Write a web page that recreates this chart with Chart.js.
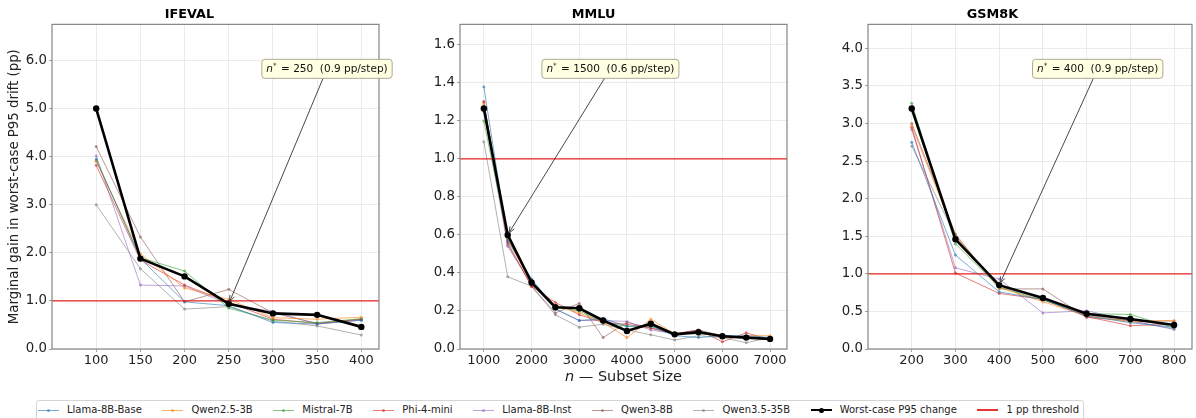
<!DOCTYPE html>
<html><head><meta charset="utf-8">
<script src="https://cdn.jsdelivr.net/npm/chart.js@4.4.1/dist/chart.umd.min.js"></script>
<style>
html,body{margin:0;padding:0;background:#fff;}
#wrap{position:relative;width:1196px;height:418px;overflow:hidden;font-family:"DejaVu Sans",sans-serif;background:#fff;}
#wrap canvas{position:absolute;top:0;}
#legend{position:absolute;left:36px;top:400px;width:1048px;height:30px;border:1px solid #d4d4d4;border-radius:3px;box-sizing:border-box;display:flex;justify-content:space-between;align-items:flex-start;padding:3px 4px 0 1px;font-size:10px;line-height:12px;color:#222;white-space:nowrap;}
.item{display:flex;align-items:center;}
.sample{position:relative;width:21px;height:12px;margin-right:8px;}
.sample .ln{position:absolute;left:0;width:21px;top:6px;}
.sample .dot{position:absolute;left:50%;top:6px;border-radius:50%;}
</style>
</head><body>
<div id="wrap">
<canvas id="c1"></canvas><canvas id="c2"></canvas><canvas id="c3"></canvas>
<div id="legend"></div>
</div>
<script>
// ---------------- DATA ----------------
const modelNames = ['Llama-8B-Base','Qwen2.5-3B','Mistral-7B','Phi-4-mini','Llama-8B-Inst','Qwen3-8B','Qwen3.5-35B'];
const worstLabel = 'Worst-case P95 change';
const thresholdLabel = '1 pp threshold';
const thresholdValue = 1;

// IFEVAL
const ifevalN         = [100,150,200,250,300,350,400];
const ifevalLlamaBase = [3.95,1.88,0.98,0.90,0.55,0.52,0.60];
const ifevalQwen25    = [3.90,1.98,1.27,1.03,0.65,0.62,0.66];
const ifevalMistral   = [3.92,1.90,1.62,0.85,0.60,0.55,0.63];
const ifevalPhi       = [3.82,1.85,1.33,0.97,0.62,0.53,0.62];
const ifevalLlamaInst = [4.02,1.33,1.31,0.93,0.78,0.52,0.60];
const ifevalQwen3     = [4.21,2.33,0.98,1.24,0.75,0.53,0.62];
const ifevalQwen35    = [3.00,1.67,0.83,0.88,0.58,0.48,0.29];
const ifevalWorst     = [5.00,1.88,1.51,0.94,0.74,0.71,0.46];
const ifevalXTicks    = [100,150,200,250,300,350,400];
const ifevalYTicks    = [0,1,2,3,4,5,6];
const ifevalStar = 250, ifevalGain = 0.9;

// MMLU
const mmluN         = [1000,1500,2000,2500,3000,3500,4000,4500,5000,5500,6000,6500,7000];
const mmluLlamaBase = [1.38,0.57,0.37,0.21,0.15,0.16,0.12,0.12,0.07,0.06,0.07,0.07,0.06];
const mmluQwen25    = [1.29,0.58,0.34,0.23,0.19,0.14,0.06,0.157,0.08,0.09,0.06,0.07,0.07];
const mmluMistral   = [1.20,0.58,0.35,0.22,0.20,0.14,0.12,0.12,0.08,0.08,0.07,0.06,0.06];
const mmluPhi       = [1.30,0.56,0.33,0.245,0.18,0.14,0.13,0.11,0.08,0.10,0.038,0.085,0.05];
const mmluLlamaInst = [1.25,0.54,0.34,0.21,0.15,0.15,0.145,0.10,0.08,0.08,0.07,0.06,0.06];
const mmluQwen3     = [1.30,0.55,0.33,0.19,0.24,0.06,0.14,0.11,0.08,0.10,0.07,0.06,0.05];
const mmluQwen35    = [1.09,0.38,0.33,0.18,0.115,0.13,0.10,0.075,0.047,0.07,0.06,0.033,0.06];
const mmluWorst     = [1.265,0.60,0.35,0.22,0.214,0.15,0.095,0.133,0.077,0.089,0.067,0.06,0.053];
const mmluXTicks    = [1000,2000,3000,4000,5000,6000,7000];
const mmluYTicks    = [0,0.2,0.4,0.6,0.8,1.0,1.2,1.4,1.6];
const mmluStar = 1500, mmluGain = 0.6;

// GSM8K
const gsmN         = [200,300,400,500,600,700,800];
const gsmLlamaBase = [2.75,1.25,0.76,0.66,0.44,0.35,0.29];
const gsmQwen25    = [2.97,1.50,0.82,0.63,0.44,0.36,0.38];
const gsmMistral   = [3.27,1.40,0.82,0.65,0.47,0.46,0.28];
const gsmPhi       = [2.95,1.01,0.74,0.66,0.43,0.31,0.33];
const gsmLlamaInst = [2.92,1.08,0.93,0.48,0.51,0.38,0.26];
const gsmQwen3     = [3.00,1.53,0.80,0.80,0.42,0.38,0.37];
const gsmQwen35    = [2.70,1.50,0.85,0.68,0.45,0.37,0.27];
const gsmWorst     = [3.20,1.46,0.85,0.68,0.47,0.40,0.32];
const gsmXTicks    = [200,300,400,500,600,700,800];
const gsmYTicks    = [0,0.5,1.0,1.5,2.0,2.5,3.0,3.5,4.0];
const gsmStar = 400, gsmGain = 0.9;

// ---------------- STYLE / LAYOUT ----------------
const FONT = '"DejaVu Sans", sans-serif';
const modelRGB = ['31,119,180','255,127,14','44,160,44','214,39,40','148,103,189','140,86,75','127,127,127'];
const modelAlpha = 0.6;
const thresholdColor = 'rgba(230,0,0,0.85)';
const thresholdLegendColor = '#e63232';

const panels = [
  {id:'c1', left:0,   width:400, title:'IFEVAL', n:ifevalN,
   series:[ifevalLlamaBase,ifevalQwen25,ifevalMistral,ifevalPhi,ifevalLlamaInst,ifevalQwen3,ifevalQwen35],
   worst:ifevalWorst, xMin:50, xMax:420, xTicks:ifevalXTicks, yTicks:ifevalYTicks,
   star:ifevalStar, gain:ifevalGain, fx:0.841, yW:52, padR:21, yTitle:true, xTitle:false},
  {id:'c2', left:400, width:400, title:'MMLU', n:mmluN,
   series:[mmluLlamaBase,mmluQwen25,mmluMistral,mmluPhi,mmluLlamaInst,mmluQwen3,mmluQwen35],
   worst:mmluWorst, xMin:500, xMax:7355, xTicks:mmluXTicks, yTicks:mmluYTicks,
   star:mmluStar, gain:mmluGain, fx:0.46, yW:60, padR:13, yTitle:false, xTitle:true},
  {id:'c3', left:790, width:406, title:'GSM8K', n:gsmN,
   series:[gsmLlamaBase,gsmQwen25,gsmMistral,gsmPhi,gsmLlamaInst,gsmQwen3,gsmQwen35],
   worst:gsmWorst, xMin:100, xMax:841, xTicks:gsmXTicks, yTicks:gsmYTicks,
   star:gsmStar, gain:gsmGain, fx:0.709, yW:78, padR:1, yTitle:false, xTitle:false}
];
const CANVAS_H = 390, PLOT_BOTTOM = 349;

const framePlugin = {
  id:'frame',
  afterDatasetsDraw(chart){
    const {ctx, chartArea:a} = chart;
    ctx.save();
    ctx.strokeStyle = '#858585'; ctx.lineWidth = 1.2;
    ctx.strokeRect(a.left, a.top, a.right - a.left, a.bottom - a.top);
    ctx.restore();
  }
};

const xTitlePlugin = {
  id:'xtitle',
  afterDraw(chart){
    const o = chart.options.plugins.xtitle;
    if (!o || !o.display) return;
    const {ctx, chartArea:a} = chart;
    ctx.save();
    ctx.fillStyle = '#222'; ctx.textBaseline = 'middle';
    const fs = 14.5;
    const fI = `italic ${fs}px ${FONT}`, fN = `${fs}px ${FONT}`;
    ctx.font = fI; const w1 = ctx.measureText('n').width;
    ctx.font = fN; const rest = ' \u2014 Subset Size'; const w2 = ctx.measureText(rest).width;
    let x = (a.left + a.right)/2 - (w1 + w2)/2;
    const y = o.y;
    ctx.font = fI; ctx.textAlign = 'left'; ctx.fillText('n', x, y);
    ctx.font = fN; ctx.fillText(rest, x + w1, y);
    ctx.restore();
  }
};

const annotPlugin = {
  id:'annot',
  afterDraw(chart){
    const o = chart.options.plugins.annot;
    const {ctx, chartArea:a, scales:{x, y}} = chart;
    const tx = x.getPixelForValue(o.star), ty = y.getPixelForValue(o.starVal);
    const cx = a.left + o.fx*(a.right - a.left), cy = a.bottom - o.fy*(a.bottom - a.top);
    const fs = 10.5;
    const fI = `italic ${fs}px ${FONT}`, fN = `${fs}px ${FONT}`, fS = `${fs*0.7}px ${FONT}`;
    const tail = ' = ' + o.star + '  (' + o.gain.toFixed(1) + ' pp/step)';
    ctx.save();
    ctx.font = fI; const wN = ctx.measureText('n').width;
    ctx.font = fS; const wS = ctx.measureText('*').width;
    ctx.font = fN; const wT = ctx.measureText(tail).width;
    const tw = wN + wS + 1 + wT;
    const bw = tw + 9, bh = 19;
    const dx = tx - cx, dy = ty - cy;
    const t = Math.min((bw/2)/Math.abs(dx || 1e-6), (bh/2)/Math.abs(dy || 1e-6));
    const sx = cx + dx*t, sy = cy + dy*t;
    const len = Math.hypot(tx - sx, ty - sy);
    const ux = (tx - sx)/len, uy = (ty - sy)/len;
    const ex = tx - ux*2, ey = ty - uy*2;
    ctx.strokeStyle = '#333'; ctx.lineWidth = 0.9;
    ctx.beginPath(); ctx.moveTo(sx, sy); ctx.lineTo(ex, ey); ctx.stroke();
    const ang = Math.atan2(uy, ux), hl = 7, ha = 0.35;
    ctx.beginPath();
    ctx.moveTo(ex - hl*Math.cos(ang - ha), ey - hl*Math.sin(ang - ha));
    ctx.lineTo(ex, ey);
    ctx.lineTo(ex - hl*Math.cos(ang + ha), ey - hl*Math.sin(ang + ha));
    ctx.stroke();
    const bx = cx - bw/2, by = cy - bh/2;
    ctx.beginPath();
    if (ctx.roundRect) ctx.roundRect(bx, by, bw, bh, 3); else ctx.rect(bx, by, bw, bh);
    ctx.fillStyle = 'rgba(255,255,224,0.95)'; ctx.fill();
    ctx.strokeStyle = '#a0a08a'; ctx.lineWidth = 0.9; ctx.stroke();
    ctx.fillStyle = '#111'; ctx.textBaseline = 'middle'; ctx.textAlign = 'left';
    let px = cx - tw/2;
    ctx.font = fI; ctx.fillText('n', px, cy + 0.5); px += wN;
    ctx.font = fS; ctx.fillText('*', px, cy - 3); px += wS + 1;
    ctx.font = fN; ctx.fillText(tail, px, cy + 0.5);
    ctx.restore();
  }
};

function buildChart(p){
  const cv = document.getElementById(p.id);
  cv.width = p.width; cv.height = CANVAS_H;
  cv.style.left = p.left + 'px'; cv.style.width = p.width + 'px'; cv.style.height = CANVAS_H + 'px';
  const datasets = [];
  p.series.forEach((vals, i) => {
    const c = `rgba(${modelRGB[i]},${modelAlpha})`;
    datasets.push({label:modelNames[i], data:p.n.map((v,k)=>({x:v, y:vals[k]})),
      borderColor:c, backgroundColor:c, borderWidth:1, pointRadius:1.5, pointBorderWidth:0,
      pointBackgroundColor:c, tension:0, order:3});
  });
  datasets.push({label:thresholdLabel, data:[{x:p.xMin, y:thresholdValue},{x:p.xMax, y:thresholdValue}],
    borderColor:thresholdColor, borderWidth:1.3, pointRadius:0, order:2});
  datasets.push({label:worstLabel, data:p.n.map((v,k)=>({x:v, y:p.worst[k]})),
    borderColor:'#000', backgroundColor:'#000', borderWidth:2.6, pointRadius:3.2, pointBorderWidth:0,
    pointBackgroundColor:'#000', tension:0, order:1});
  const yMax = Math.max(...p.worst) * 1.35;
  const starVal = p.worst[p.n.indexOf(p.star)];
  return new Chart(cv, {
    type:'line',
    data:{datasets},
    plugins:[framePlugin, xTitlePlugin, annotPlugin],
    options:{
      responsive:false, animation:false, devicePixelRatio:1,
      layout:{padding:{left:0, right:p.padR, top:0, bottom:0}},
      plugins:{
        legend:{display:false}, tooltip:{enabled:false},
        title:{display:true, text:p.title, color:'#000', font:{family:FONT, size:12.8, weight:'bold'}, padding:{top:7, bottom:2}},
        xtitle:{display:p.xTitle, y:377},
        annot:{star:p.star, starVal, gain:p.gain, fx:p.fx, fy:0.863}
      },
      scales:{
        x:{type:'linear', min:p.xMin, max:p.xMax,
          afterBuildTicks:s=>{ s.ticks = p.xTicks.map(v=>({value:v})); },
          afterFit:s=>{ s.height = CANVAS_H - PLOT_BOTTOM; },
          grid:{color:'#e6e6e6', lineWidth:0.8, tickLength:3, tickColor:'#858585', drawTicks:true},
          border:{display:false},
          ticks:{font:{family:FONT, size:13}, color:'#222', padding:1, maxRotation:0, autoSkip:false,
                 callback:v=>String(v)}
        },
        y:{type:'linear', min:0, max:yMax,
          afterBuildTicks:s=>{ s.ticks = p.yTicks.map(v=>({value:v})); },
          afterFit:s=>{ s.width = p.yW; },
          grid:{color:'#e6e6e6', lineWidth:0.8, tickLength:3, tickColor:'#858585', drawTicks:true},
          border:{display:false},
          title:{display:p.yTitle, text:'Marginal gain in worst-case P95 drift (pp)', color:'#222',
                 font:{family:FONT, size:13.3}, padding:{top:7, bottom:0}},
          ticks:{font:{family:FONT, size:13.3}, color:'#222', padding:2, autoSkip:false,
                 callback:v=>Number(v).toFixed(1)}
        }
      }
    }
  });
}
panels.forEach(buildChart);

// ---------------- LEGEND (HTML) ----------------
const legend = document.getElementById('legend');
function addItem(label, color, lw, dotSize){
  const it = document.createElement('div'); it.className = 'item';
  const s = document.createElement('div'); s.className = 'sample';
  const ln = document.createElement('div'); ln.className = 'ln';
  ln.style.height = lw + 'px'; ln.style.background = color; ln.style.marginTop = (-lw/2) + 'px';
  s.appendChild(ln);
  if (dotSize){
    const d = document.createElement('div'); d.className = 'dot';
    d.style.width = d.style.height = dotSize + 'px';
    d.style.marginLeft = d.style.marginTop = (-dotSize/2) + 'px';
    d.style.background = color; s.appendChild(d);
  }
  const t = document.createElement('span'); t.textContent = label;
  it.appendChild(s); it.appendChild(t); legend.appendChild(it);
}
modelNames.forEach((m,i)=>addItem(m, `rgba(${modelRGB[i]},${modelAlpha})`, 1, 3));
addItem(worstLabel, '#000', 2.6, 5);
addItem(thresholdLabel, thresholdLegendColor, 1.5, 0);
</script>
</body></html>
